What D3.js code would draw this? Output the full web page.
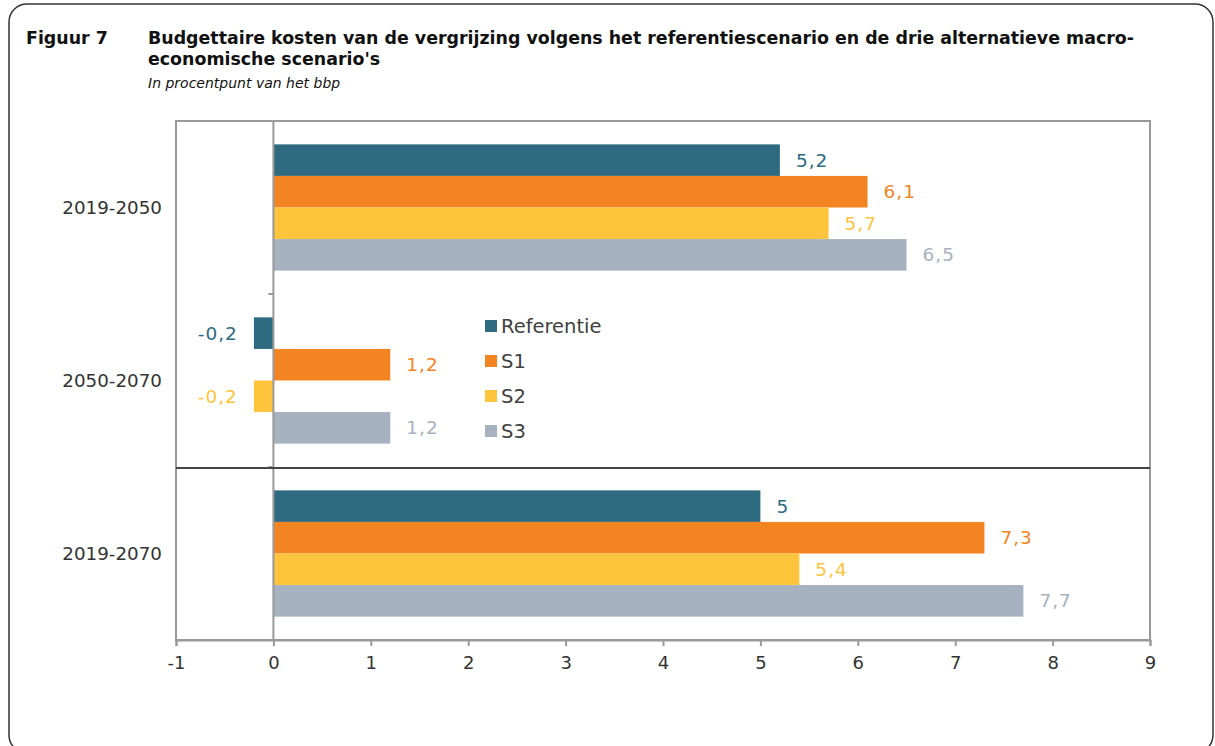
<!DOCTYPE html>
<html>
<head>
<meta charset="utf-8">
<script src="https://cdn.jsdelivr.net/npm/d3@7"></script>
<style>
  body { margin: 0; background: #fff; }
  text { font-family: "DejaVu Sans", sans-serif; }
</style>
</head>
<body>
<svg id="chart" width="1215" height="746"></svg>
<script>
var width = 1215, height = 746

var periods = ["2019-2050", "2050-2070", "2019-2070"]
var series = ["Referentie", "S1", "S2", "S3"]
var colors = ["#2e6a80", "#f38422", "#fec43b", "#a6b2bf"]
var referentie = [5.2, -0.2, 5.0]
var s1 = [6.1, 1.2, 7.3]
var s2 = [5.7, -0.2, 5.4]
var s3 = [6.5, 1.2, 7.7]
var xTicks = [-1, 0, 1, 2, 3, 4, 5, 6, 7, 8, 9]

var values = [referentie, s1, s2, s3]
var rows = []
periods.forEach((p, i) => {
  series.forEach((s, j) => {
    rows.push({period: p, series: s, value: values[j][i], color: colors[j]})
  })
})

var margin = {left: 176, right: 65, top: 121, bottom: 106}

var svg = d3.select('#chart')

// outer frame
svg.append('rect')
  .attr('x', 9).attr('y', 4)
  .attr('width', 1204).attr('height', 749)
  .attr('rx', 18)
  .attr('fill', 'none')
  .attr('stroke', '#333')
  .attr('stroke-width', 1.5)

// titles
svg.append('text').attr('x', 26).attr('y', 44)
  .style('font-size', '17.4px').style('font-weight', 'bold').attr('fill', '#111')
  .text('Figuur 7')
svg.append('text').attr('x', 148).attr('y', 44)
  .style('font-size', '17.4px').style('font-weight', 'bold').attr('fill', '#111')
  .text('Budgettaire kosten van de vergrijzing volgens het referentiescenario en de drie alternatieve macro-')
svg.append('text').attr('x', 148).attr('y', 65)
  .style('font-size', '17.4px').style('font-weight', 'bold').attr('fill', '#111')
  .text("economische scenario's")
svg.append('text').attr('x', 148).attr('y', 88)
  .style('font-size', '14px').style('font-style', 'italic').attr('fill', '#111')
  .text('In procentpunt van het bbp')

var x = d3.scaleLinear()
  .domain([-1, 9])
  .range([margin.left, width - margin.right])

var y = d3.scaleBand()
  .domain(periods)
  .range([margin.top, height - margin.bottom])

var y1 = d3.scaleBand()
  .domain(series)
  .range([0, y.bandwidth()])
  .paddingOuter(0.74)

var g = svg.append('g')

// plot border
g.append('rect')
  .attr('x', x(-1)).attr('y', margin.top)
  .attr('width', x(9) - x(-1)).attr('height', height - margin.bottom - margin.top)
  .attr('fill', 'none').attr('stroke', '#999').attr('stroke-width', 2)

// bars
g.selectAll('rect.bar')
  .data(rows)
  .enter().append('rect')
  .attr('class', 'bar')
  .attr('x', d => x(Math.min(0, d.value)))
  .attr('y', d => y(d.period) + y1(d.series))
  .attr('width', d => Math.abs(x(d.value) - x(0)))
  .attr('height', y1.bandwidth())
  .attr('fill', d => d.color)

// zero line
g.append('line')
  .attr('x1', x(0)).attr('x2', x(0))
  .attr('y1', margin.top).attr('y2', height - margin.bottom)
  .attr('stroke', '#999').attr('stroke-width', 2)

// category axis ticks
periods.slice(1).forEach(p => {
  g.append('line')
    .attr('x1', x(0) - 5).attr('x2', x(0))
    .attr('y1', y(p)).attr('y2', y(p))
    .attr('stroke', '#999').attr('stroke-width', 2)
})

// dark divider line
g.append('line')
  .attr('x1', x(-1)).attr('x2', x(9))
  .attr('y1', y(periods[2]) + 1).attr('y2', y(periods[2]) + 1)
  .attr('stroke', '#444').attr('stroke-width', 2)

// value labels
g.selectAll('text.val')
  .data(rows)
  .enter().append('text')
  .attr('class', 'val')
  .attr('x', d => d.value < 0 ? x(d.value) - 16 : x(d.value) + 16)
  .attr('y', d => y(d.period) + y1(d.series) + y1.bandwidth() / 2)
  .attr('dy', '0.35em')
  .attr('text-anchor', d => d.value < 0 ? 'end' : 'start')
  .attr('fill', d => d.color)
  .style('font-size', '18.5px')
  .style('letter-spacing', '1px')
  .text(d => String(d.value).replace('.', ','))

// category labels
g.selectAll('text.cat')
  .data(periods)
  .enter().append('text')
  .attr('class', 'cat')
  .attr('x', 162)
  .attr('y', d => y(d) + y.bandwidth() / 2)
  .attr('dy', '0.35em')
  .attr('text-anchor', 'end')
  .attr('fill', '#333')
  .style('font-size', '18.3px')
  .text(d => d)

// x axis
var xAxis = g.append('g')
  .attr('transform', 'translate(0,' + (height - margin.bottom) + ')')
  .call(d3.axisBottom(x).tickValues(xTicks).tickSize(6).tickPadding(10).tickFormat(d => String(d)))
xAxis.select('.domain').attr('stroke', '#999').attr('stroke-width', 2)
xAxis.selectAll('.tick line').attr('stroke', '#999').attr('stroke-width', 2)
xAxis.selectAll('.tick text')
  .attr('fill', '#333')
  .style('font-size', '18px')
  .style('font-family', '"DejaVu Sans", sans-serif')

// legend
var legend = g.selectAll('g.leg')
  .data(series)
  .enter().append('g')
  .attr('class', 'leg')
  .attr('transform', (d, i) => 'translate(485,' + (326 + i * 35) + ')')
legend.append('rect')
  .attr('x', 0).attr('y', -6)
  .attr('width', 12).attr('height', 12)
  .attr('fill', (d, i) => colors[i])
legend.append('text')
  .attr('x', 16).attr('y', 0).attr('dy', '0.35em')
  .attr('fill', '#404040')
  .style('font-size', '19.5px')
  .text(d => d)
</script>
</body>
</html>
